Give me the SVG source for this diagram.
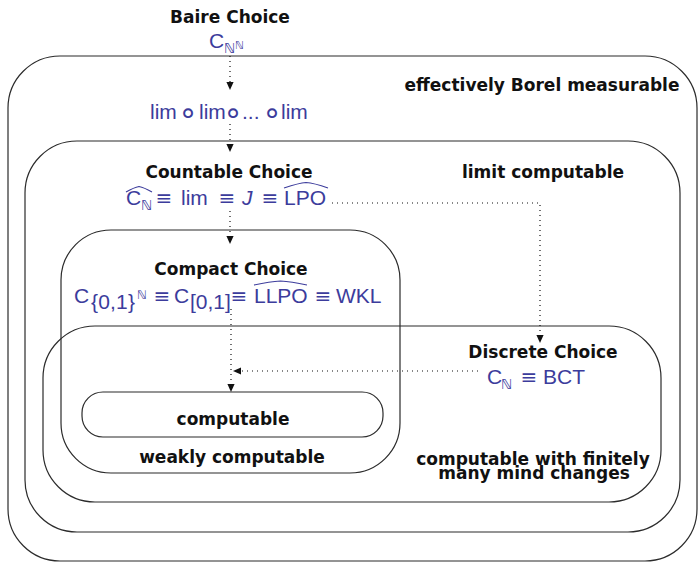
<svg xmlns="http://www.w3.org/2000/svg" width="698" height="562" viewBox="0 0 698 562">
<style>
.reg{fill:none;stroke:#2b2b2b;stroke-width:1.2}
.t{font-family:"DejaVu Sans",sans-serif;font-weight:bold;font-size:17px;fill:#111;text-anchor:middle}
.m{font-family:"Liberation Sans","DejaVu Sans",sans-serif;font-size:21px;fill:#3c3c9c}
.s{font-family:"DejaVu Sans",sans-serif;fill:#3c3c9c}
.eq{font-family:"DejaVu Sans",sans-serif;font-size:20px;fill:#3c3c9c;text-anchor:middle}
.ci{font-family:"DejaVu Sans",sans-serif;font-size:31px;fill:#3c3c9c;text-anchor:middle}
.hat{fill:none;stroke:#3c3c9c;stroke-width:1.1}
.dot{fill:none;stroke:#111;stroke-width:1.2;stroke-dasharray:1 4}
</style>
<defs>
<marker id="ah" viewBox="0 0 10 10" refX="10" refY="5" markerWidth="8" markerHeight="8" markerUnits="userSpaceOnUse" orient="auto">
<path d="M0,0.5 L10,5 L0,9.5 Z" fill="#111"/>
</marker>
</defs>

<g id="effectively-borel">
<rect class="reg" x="8" y="56" width="689" height="505" rx="52"/>
<text class="t" x="542" y="91">effectively Borel measurable</text>
</g>
<g id="limit-computable">
<rect class="reg" x="25" y="141" width="655" height="391" rx="52"/>
<text class="t" x="543" y="178">limit computable</text>
</g>
<g id="finitely-many">
<rect class="reg" x="43" y="326" width="618" height="176" rx="52"/>
<text class="t"><tspan x="533" y="465">computable with finitely</tspan><tspan x="534" y="479">many mind changes</tspan></text>
</g>
<g id="weakly-computable">
<rect class="reg" x="61" y="230" width="339" height="243" rx="50"/>
<text class="t" x="232" y="463">weakly computable</text>
</g>
<g id="computable">
<rect class="reg" x="82" y="392" width="301" height="45" rx="21"/>
<text class="t" x="233" y="425">computable</text>
</g>

<g id="baire-choice">
<text class="t" x="230" y="23">Baire Choice</text>
<text class="m" x="209" y="48" font-size="18">C</text>
<text class="s" x="224" y="53" font-size="14">ℕ</text>
<text class="s" x="235" y="49" font-size="11">ℕ</text>
</g>
<g id="lim-iterated">
<text class="m" x="150" y="119">lim</text>
<text class="ci" x="188" y="123">∘</text>
<text class="m" x="199" y="119">lim</text>
<text class="ci" x="233" y="123">∘</text>
<text class="m" x="242" y="119">...</text>
<text class="ci" x="272" y="123">∘</text>
<text class="m" x="281" y="119">lim</text>
</g>
<g id="countable-choice">
<text class="t" x="229" y="178">Countable Choice</text>
<text class="m" x="126" y="205">C</text>
<text class="s" x="141" y="210" font-size="14">ℕ</text>
<text class="eq" x="164" y="205">≡</text>
<text class="m" x="181" y="205">lim</text>
<text class="eq" x="227" y="205">≡</text>
<text class="m" x="242" y="205" font-style="italic">J</text>
<text class="eq" x="270" y="205">≡</text>
<text class="m" x="284" y="205">LPO</text>
<path class="hat" d="M126,192 Q134,187.5 139,186.5 Q144,187.5 152,192"/>
<path class="hat" d="M284,188 Q299,183 306,182.5 Q314,183 328,188"/>
</g>
<g id="compact-choice">
<text class="t" x="231" y="275">Compact Choice</text>
<text class="m" x="74" y="303">C</text>
<text class="m" x="91" y="309" font-size="17" textLength="44" lengthAdjust="spacing">{0,1}</text>
<text class="s" x="137" y="299" font-size="12">ℕ</text>
<text class="eq" x="162" y="303">≡</text>
<text class="m" x="174" y="303">C</text>
<text class="m" x="190" y="309" font-size="16">[0,1]</text>
<text class="eq" x="239" y="303">≡</text>
<text class="m" x="254" y="303">LLPO</text>
<path class="hat" d="M254,285 Q270,281.5 280.5,281 Q291,281.5 307,285"/>
<text class="eq" x="323" y="303">≡</text>
<text class="m" x="336" y="303">WKL</text>
</g>
<g id="discrete-choice">
<text class="t" x="543" y="358">Discrete Choice</text>
<text class="m" x="487" y="384">C</text>
<text class="s" x="501" y="389" font-size="14">ℕ</text>
<text class="eq" x="529" y="384">≡</text>
<text class="m" x="543" y="384">BCT</text>
</g>

<g id="connectors">
<path class="dot" d="M230,56 L230,90" marker-end="url(#ah)"/>
<path class="dot" d="M230,124 L230,152" marker-end="url(#ah)"/>
<path class="dot" d="M230,211 L230,244" marker-end="url(#ah)"/>
<path class="dot" d="M231,309 L231,392" marker-end="url(#ah)"/>
<path class="dot" d="M478,371 L233,371" marker-end="url(#ah)"/>
<path class="dot" d="M332,203 L540,203 L540,343" marker-end="url(#ah)"/>
</g>
</svg>
